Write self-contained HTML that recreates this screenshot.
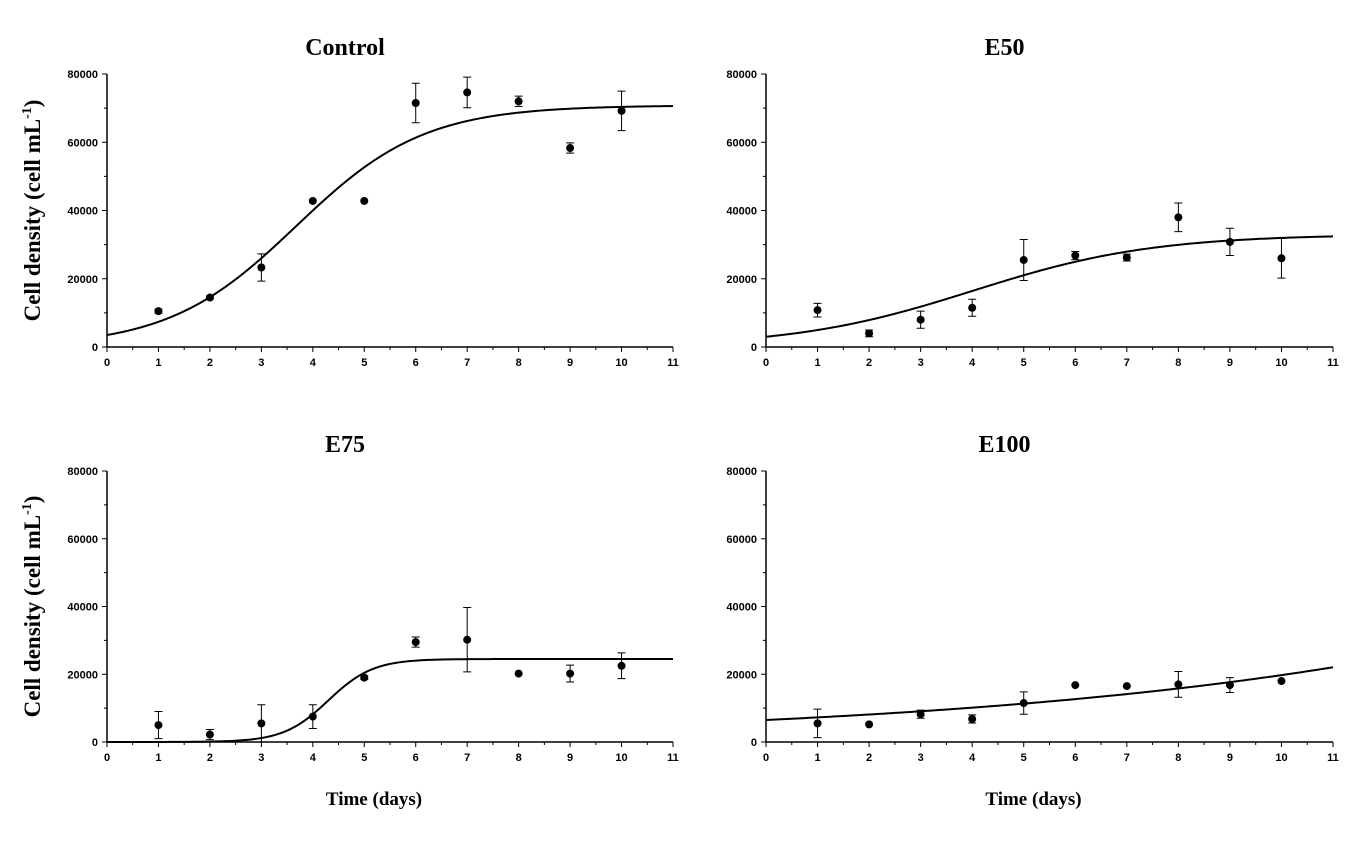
<!DOCTYPE html>
<html><head><meta charset="utf-8"><style>
html,body{margin:0;padding:0;background:#fff;}
svg{display:block;font-family:"Liberation Sans",Arial,sans-serif;}
.tick{font-size:11px;font-weight:bold;fill:#000;}
.title{font-family:"Liberation Serif",serif;font-weight:bold;font-size:24px;}
.axlab{font-family:"Liberation Serif",serif;font-weight:bold;font-size:19px;}
.ylab{font-family:"Liberation Serif",serif;font-weight:bold;font-size:23px;}
</style></head><body>
<svg id="chart" width="1355" height="845"></svg>
<script>
const days=[1,2,3,4,5,6,7,8,9,10];
const xTicks=[0,1,2,3,4,5,6,7,8,9,10,11];
const yTicks=[0,20000,40000,60000,80000];
const ctrlMean=[10500,14500,23300,42800,42800,71500,74600,72000,58300,69200];
const ctrlErr=[600,400,4000,0,0,5800,4500,1500,1500,5800];
const e50Mean=[10800,4000,8000,11500,25500,26800,26200,38000,30800,26000];
const e50Err=[2000,1000,2500,2500,6000,1200,1000,4200,4000,5800];
const e75Mean=[5000,2200,5500,7500,19000,29500,30200,20200,20200,22500];
const e75Err=[4000,1500,5500,3500,500,1500,9500,0,2500,3800];
const e100Mean=[5500,5200,8200,6800,11500,16800,16500,17000,16800,18000];
const e100Err=[4200,0,1200,1200,3300,0,0,3800,2200,0];
const NS="http://www.w3.org/2000/svg";
const svg=document.getElementById('chart');
function mk(tag,attrs,parent){const e=document.createElementNS(NS,tag);for(const k in attrs)e.setAttribute(k,attrs[k]);(parent||svg).appendChild(e);return e;}
const panels=[
 {name:'control',title:'Control',x0:107,x1:673,y0:347,y1:74,mean:ctrlMean,err:ctrlErr,fit:t=>70800/(1+19.2*Math.exp(-0.804*t)),ylab:true,xlab:false},
 {name:'e50',title:'E50',x0:766,x1:1333,y0:347,y1:74,mean:e50Mean,err:e50Err,fit:t=>33000/(1+10*Math.exp(-0.573*t)),ylab:false,xlab:false},
 {name:'e75',title:'E75',x0:107,x1:673,y0:742,y1:471,mean:e75Mean,err:e75Err,fit:t=>24500/(1+Math.exp(-2.3*(t-4.3))),ylab:true,xlab:true},
 {name:'e100',title:'E100',x0:766,x1:1333,y0:742,y1:471,mean:e100Mean,err:e100Err,fit:t=>6500*Math.exp(0.1111*t),ylab:false,xlab:true}
];
panels.forEach(p=>{
 const g=mk('g',{});
 
 
 const X=t=>p.x0+(p.x1-p.x0)*t/11;
 const Y=v=>p.y0+(p.y1-p.y0)*v/80000;
 const cx=(p.x0+p.x1)/2;
 const ti=mk('text',{x:cx-45,y:p.y1-19,'text-anchor':'middle',class:'title'},g);ti.textContent=p.title;
 
 const ax=mk('path',{d:`M${p.x0},${p.y1}V${p.y0}H${p.x1}`,stroke:'#000','stroke-width':1.5,fill:'none'},g);
 
 for(let v=0;v<=80000;v+=10000){mk('line',{x1:p.x0,x2:p.x0-(v%20000?3:5),y1:Y(v),y2:Y(v),stroke:'#000','stroke-width':1},g);}
 yTicks.forEach(v=>{const t=mk('text',{x:p.x0-9,y:Y(v)+4,'text-anchor':'end',class:'tick'},g);t.textContent=v;
  });
 for(let d=0;d<=11;d+=0.5){mk('line',{x1:X(d),x2:X(d),y1:p.y0,y2:p.y0+(d%1?3:5),stroke:'#000','stroke-width':1},g);}
 xTicks.forEach(d=>{const t=mk('text',{x:X(d),y:p.y0+19,'text-anchor':'middle',class:'tick'},g);t.textContent=d;
  });
 let dstr='';for(let i=0;i<=220;i++){const t=11*i/220;dstr+=(i?'L':'M')+X(t).toFixed(2)+','+Y(p.fit(t)).toFixed(2);}
 const fl=mk('path',{d:dstr,stroke:'#000','stroke-width':2,fill:'none'},g);
 
 days.forEach((d,i)=>{
  const m=p.mean[i],e=p.err[i];
  if(e>0){const eb=mk('path',{d:`M${X(d)},${Y(m-e)}V${Y(m+e)}M${X(d)-4},${Y(m-e)}h8M${X(d)-4},${Y(m+e)}h8`,stroke:'#000','stroke-width':1,fill:'none'},g);
   }
  const c=mk('circle',{cx:X(d),cy:Y(m),r:4,fill:'#000'},g);
  
 });
 if(p.ylab){const cy=(p.y0+p.y1)/2;const t=mk('text',{x:0,y:0,transform:`translate(40,${cy}) rotate(-90)`,'text-anchor':'middle',class:'ylab'},g);
  t.innerHTML='Cell density (cell mL<tspan dy="-9" font-size="14">-1</tspan><tspan dy="9">)</tspan>';
  }
 if(p.xlab){const t=mk('text',{x:cx-16,y:p.y0+63,'text-anchor':'middle',class:'axlab'},g);t.textContent='Time (days)';
  }
});
</script>
</body></html>
